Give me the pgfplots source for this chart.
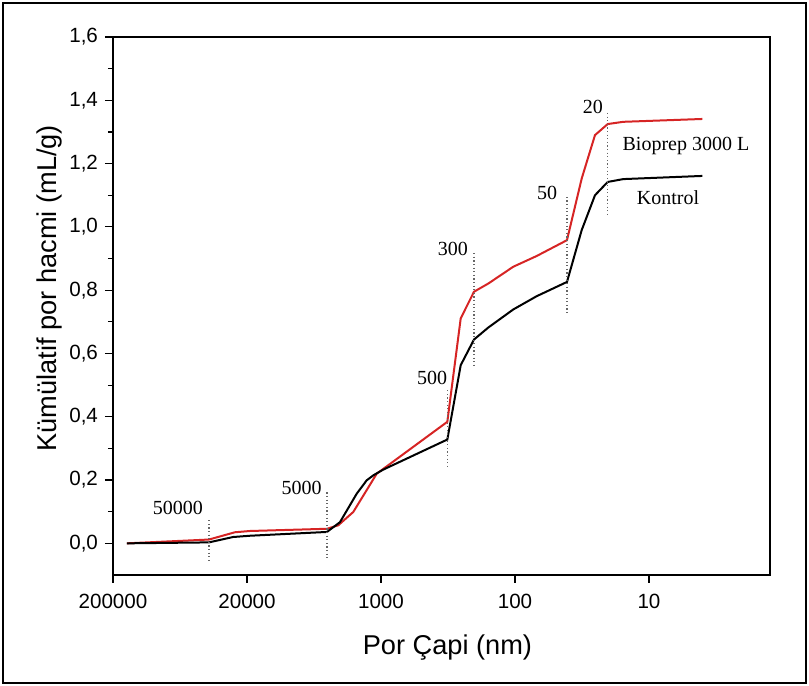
\documentclass[border=0pt]{standalone}
\usepackage{fontspec}
\setmainfont{Liberation Sans}
\newfontfamily\serif{Liberation Serif}
\usepackage{pgfplots}
\pgfplotsset{compat=1.18}
\definecolor{bioprep}{RGB}{214,36,36}

\begin{document}
\begin{tikzpicture}
\begin{axis}[
    scale only axis,
    width=328.5pt, height=269pt,
    xmin=0, xmax=4.903,
    ymin=-0.1, ymax=1.6,
    xtick={0,1,2,3,4},
    xticklabels={200000,20000,1000,100,10},
    ytick={0,0.2,...,1.6},
    minor y tick num=1,
    xtick pos=bottom, ytick pos=left,
    tick align=outside,
    major tick length=4pt, minor tick length=2.5pt,
    tick style={black, line width=0.6pt},
    axis line style={line width=0.6pt},
    tick label style={font=\fontsize{10.3}{12}\selectfont},
    xticklabel style={yshift=-2pt},
    /pgf/number format/assume math mode=true,
    yticklabel style={/pgf/number format/.cd, fixed, fixed zerofill, precision=1, use comma},
    xlabel={Por Çapi (nm)},
    ylabel={Kümülatif por hacmi (mL/g)},
    label style={font=\fontsize{13.6}{15}\selectfont},
    xlabel style={at={(rel axis cs:0.509,-0.134)}, anchor=center},
    ylabel style={at={(rel axis cs:-0.097,0.533)}, anchor=center},
    clip=false,
]
% Bioprep 3000 L
\addplot[bioprep, line width=1pt] coordinates {
    (0.104,0) (0.716,0.012) (0.910,0.035) (1.022,0.039) (1.597,0.046)
    (1.681,0.057) (1.793,0.099) (1.893,0.168) (1.968,0.220) (2.495,0.384)
    (2.595,0.711) (2.694,0.795) (2.801,0.821) (2.987,0.874) (3.162,0.908)
    (3.388,0.958) (3.498,1.153) (3.597,1.290) (3.692,1.325) (3.808,1.332)
    (4.398,1.341)
};
% Kontrol
\addplot[black, line width=1pt] coordinates {
    (0.104,0) (0.716,0.003) (0.896,0.020) (1.022,0.024) (1.597,0.036)
    (1.694,0.067) (1.819,0.157) (1.893,0.199) (1.943,0.215) (2.017,0.233)
    (2.495,0.328) (2.595,0.563) (2.694,0.644) (2.801,0.682) (2.987,0.739)
    (3.162,0.781) (3.388,0.826) (3.498,0.990) (3.597,1.100) (3.692,1.142)
    (3.808,1.151) (4.398,1.161)
};
% pore size markers
\pgfplotsset{marker line/.style={black!60, dash pattern=on 0.6pt off 1.2pt, line width=0.6pt}}
\addplot[marker line] coordinates {(0.716,0.073) (0.716,-0.060)};
\addplot[marker line] coordinates {(1.597,0.161) (1.597,-0.054)};
\addplot[marker line] coordinates {(2.495,0.484) (2.495,0.241)};
\addplot[marker line] coordinates {(2.694,0.917) (2.694,0.560)};
\addplot[marker line] coordinates {(3.388,1.095) (3.388,0.727)};
\addplot[marker line] coordinates {(3.692,1.360) (3.692,1.031)};

\begin{scope}[every node/.style={font=\serif\fontsize{10}{12}\selectfont, anchor=center}]
\node at (axis cs:0.485,0.111) {50000};
\node at (axis cs:1.408,0.174) {5000};
\node at (axis cs:2.381,0.522) {500};
\node at (axis cs:2.537,0.929) {300};
\node at (axis cs:3.239,1.107) {50};
\node at (axis cs:3.582,1.379) {20};
\node at (axis cs:4.276,1.255) {Bioprep 3000 L};
\node at (axis cs:4.142,1.091) {Kontrol};
\end{scope}

\coordinate (bbl) at (rel axis cs:-0.172,-0.2063);
\coordinate (btr) at (rel axis cs:1.0594,1.0688);
\coordinate (fbl) at (rel axis cs:-0.1674,-0.2007);
\coordinate (ftr) at (rel axis cs:1.0548,1.0632);
\end{axis}
\path (bbl) rectangle (btr);
\draw[line width=0.6pt] (fbl) rectangle (ftr);
\end{tikzpicture}
\end{document}
